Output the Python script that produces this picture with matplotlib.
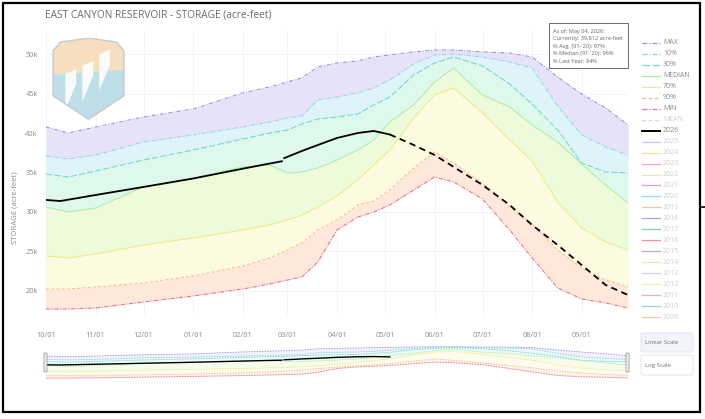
import matplotlib
matplotlib.use('Agg')
import matplotlib.pyplot as plt
from matplotlib.patches import Rectangle, Polygon, FancyBboxPatch
from matplotlib.lines import Line2D
import numpy as np

plt.rcParams['font.family'] = ['Open Sans', 'DejaVu Sans']

# water-year day (0 = Oct 1) and storage statistics in acre-feet
days = [0, 14, 31, 61, 92, 123, 140, 151, 160, 170, 182, 195, 205, 215,
        230, 243, 255, 273, 290, 304, 320, 335, 350, 364]
st_max = [40760, 40000, 40760, 42030, 43040, 45070, 45830, 46460, 46970, 48360, 48865, 49120,
          49620, 49880, 50260, 50510, 50510, 50260, 50130, 49620, 47090, 44940, 43170, 41020]
st_p10 = [37090, 36710, 37220, 38860, 39750, 40760, 41400, 41900, 42150, 44180, 44560, 45070,
          45700, 46710, 48740, 49880, 50000, 49620, 48990, 48230, 43420, 39750, 38230, 37220]
st_p30 = [34810, 34430, 35190, 36580, 37850, 39240, 40000, 40380, 41140, 41780, 42030, 42410,
          43550, 44560, 47350, 48860, 49620, 48490, 46210, 43670, 40380, 36210, 35065, 34940]
st_med = [30630, 30000, 30500, 33170, 34240, 35700, 35950, 34940, 35070, 35570, 36580, 37850,
          39120, 41400, 43550, 46460, 48230, 44810, 43290, 41020, 38860, 36080, 33420, 31140]
st_p70 = [24430, 24180, 24680, 25820, 26710, 27720, 28360, 28990, 29620, 30630, 32030, 34050,
          35950, 37850, 41900, 44810, 45700, 42540, 39120, 36460, 31270, 27980, 26200, 25190]
st_p90 = [20250, 20250, 20510, 21010, 21900, 23160, 24180, 25190, 26080, 27720, 28990, 30890,
          31390, 32790, 35570, 37600, 36200, 33670, 30630, 28480, 25190, 22910, 21390, 20510]
st_min = [17720, 17720, 17850, 18610, 19370, 20250, 20890, 21390, 21770, 23670, 27720, 29370,
          30000, 30890, 32790, 34430, 33800, 31650, 27720, 24180, 20380, 18990, 18480, 17850]

# current water year (observed) and projection
obs_days = [0, 9, 31, 61, 92, 123, 140, 147.5, 148, 149, 160, 170, 182, 195, 205, 215]
obs_vals = [31520, 31390, 32150, 33170, 34240, 35480, 36140, 36420, np.nan, 36820, 37720,
            38480, 39370, 40000, 40260, 39812]
proj_days = [215, 230, 243, 255, 273, 290, 304, 320, 335, 350, 364]
proj_vals = [39812, 38480, 37220, 35700, 33420, 30890, 28360, 25820, 23290, 20760, 19490]

month_days = [0, 31, 61, 92, 123, 151, 182, 212, 243, 273, 304, 335]
month_labels = ['10/01', '11/01', '12/01', '01/01', '02/01', '03/01',
                '04/01', '05/01', '06/01', '07/01', '08/01', '09/01']
ytick_vals = [20000, 25000, 30000, 35000, 40000, 45000, 50000]
ytick_labels = ['20k', '25k', '30k', '35k', '40k', '45k', '50k']

info_lines = ['As of: May 04, 2026:', 'Currently: 39,812 acre-feet', "% Avg. (91-'20): 97%",
              "% Median (91-'20): 96%", '% Last Year: 84%']

stats = [
    ('MAX', st_max, '#9890dd', (0, (4, 1.5, 1, 1.5))),
    ('10%', st_p10, '#8bd5eb', (0, (4, 1.5, 1, 1.5))),
    ('30%', st_p30, '#6cd9c8', (0, (6, 2))),
    ('MEDIAN', st_med, '#b0eaa8', '-'),
    ('70%', st_p70, '#e9ed84', '-'),
    ('90%', st_p90, '#f6bf86', (0, (3, 2))),
    ('MIN', st_min, '#ec6f8a', (0, (4, 1.5, 1, 1.5))),
]
band_colors = ['#e6e3f8', '#def4f8', '#def8ec', '#eefbda', '#fcfbe0', '#fde8db']

year_labels = ['2025', '2024', '2023', '2022', '2021', '2020', '2019', '2018', '2017',
               '2016', '2015', '2014', '2013', '2012', '2011', '2010', '2009']
year_colors = ['#cbc5f1', '#f3e28e', '#f2a9c0', '#e6e9b4', '#dba3c6', '#93e1dc', '#f6c490',
               '#aca4e7', '#78d5c3', '#f08f9e', '#acabeb', '#f3e2b6', '#dacdf1', '#edf0b4',
               '#f4abba', '#93d2e9', '#f6c9b4']

W, H = 705, 419


def px_box(x0, y0, x1, y1):
    return [x0 / W, 1 - y1 / H, (x1 - x0) / W, (y1 - y0) / H]


def fx(x):
    return x / W


def fy(y):
    return 1 - y / H


fig = plt.figure(figsize=(W / 100, H / 100), dpi=100)
fig.patch.set_facecolor('white')

# main chart
ax = fig.add_axes(px_box(46, 30, 628, 315))
for i in range(len(stats) - 1):
    ax.fill_between(days, stats[i + 1][1], stats[i][1], color=band_colors[i], lw=0, zorder=1)
for name, vals, col, ls in stats:
    ax.plot(days, vals, color=col, ls=ls, lw=0.75, zorder=2)
ax.plot(obs_days, obs_vals, color='black', lw=1.3, zorder=4)
ax.plot(proj_days, proj_vals, color='black', lw=1.3, ls=(0, (3.5, 2.5)), zorder=4)

ax.set_xlim(0, 364)
ax.set_ylim(16960, 53040)
ax.set_xticks(month_days)
ax.set_xticklabels(month_labels)
ax.set_yticks(ytick_vals)
ax.set_yticklabels(ytick_labels)
ax.tick_params(length=0, labelsize=5.3, labelcolor='#8a8a8a')
ax.tick_params(axis='x', pad=12)
ax.tick_params(axis='y', pad=6)
ax.grid(True, color='#eef1f6', lw=0.6, zorder=0)
ax.set_axisbelow(True)
for s in ax.spines.values():
    s.set_visible(False)

fig.text(fx(45), fy(15), 'EAST CANYON RESERVOIR - STORAGE (acre-feet)', fontsize=7.3,
         color='#6b6b6b', va='center', ha='left')
fig.text(fx(15), fy(208), 'STORAGE (acre-feet)', fontsize=5.6, color='#8a8a8a',
         rotation=90, va='center', ha='center')

# badge in the upper left corner
logo = fig.add_axes(px_box(50, 38, 127, 120))
logo.set_xlim(0, 1)
logo.set_ylim(0, 1)
logo.axis('off')
shield_pts = [(0.05, 0.84), (0.14, 0.94), (0.5, 0.99), (0.86, 0.94), (0.95, 0.84),
              (0.95, 0.30), (0.5, 0.02), (0.05, 0.30)]
shield = Polygon(shield_pts, closed=True, facecolor='white', edgecolor='#c8ccd2', lw=2.2, zorder=1)
logo.add_patch(shield)
top = Polygon([(0, 1), (1, 1), (1, 0.62), (0, 0.55)], facecolor='#f5dfbf', lw=0, zorder=2)
bottom = Polygon([(0, 0.55), (1, 0.62), (1, 0), (0, 0)], facecolor='#bfdfe8', lw=0, zorder=2)
logo.add_patch(top)
logo.add_patch(bottom)
top.set_clip_path(shield)
bottom.set_clip_path(shield)
for xa, xb, yt in [(0.2, 0.34, 0.62), (0.42, 0.56, 0.72), (0.64, 0.78, 0.86)]:
    bar = Polygon([(xa, yt - 0.06), (xb, yt), (xb, yt - 0.18), (xa, yt - 0.5)],
                  facecolor='white', lw=0, zorder=3, alpha=0.9)
    logo.add_patch(bar)
    bar.set_clip_path(shield)

# info box
fig.add_artist(Rectangle((fx(549), fy(68)), (628 - 549) / W, (68 - 23) / H,
                         transform=fig.transFigure, facecolor='white',
                         edgecolor='#555555', lw=0.6, zorder=5))
for i, line in enumerate(info_lines):
    fig.text(fx(553), fy(31 + i * 7.6), line, fontsize=4.1, color='#666666',
             va='center', ha='left', zorder=6)

# legend
entries = [(n, c, ls, True) for n, v, c, ls in stats]
entries.append(('MEAN', '#d6d6d6', (0, (3, 2)), False))
entries.append(('2026', 'black', '-', True))
entries += [(lab, col, '-', False) for lab, col in zip(year_labels, year_colors)]
for i, (lab, col, ls, shown) in enumerate(entries):
    yy = fy(43 + i * 10.96)
    fig.add_artist(Line2D([fx(642), fx(660)], [yy, yy], color=col, ls=ls,
                          lw=1.4 if lab == '2026' else 0.9, transform=fig.transFigure))
    fig.text(fx(663), yy, lab, fontsize=5.0, va='center', ha='left',
             color='#8a8a8a' if shown else '#d0d0d0')

# range slider
mini = fig.add_axes(px_box(46, 344, 628, 382))
for i in range(len(stats) - 1):
    mini.fill_between(days, stats[i + 1][1], stats[i][1], color=band_colors[i], lw=0, alpha=0.5)
for name, vals, col, ls in stats:
    mini.plot(days, vals, color=col, ls=(0, (2, 1.2)), lw=0.6)
mini.plot(obs_days, obs_vals, color='black', lw=1.0)
mini.set_xlim(0, 364)
mini.set_ylim(13500, 53400)
mini.axis('off')
for hx in (44, 626):
    fig.add_artist(FancyBboxPatch((fx(hx), fy(372)), 3 / W, 19 / H,
                                  boxstyle='round,pad=0,rounding_size=0.002',
                                  transform=fig.transFigure, facecolor='#f0f0f0',
                                  edgecolor='#9a9a9a', lw=0.6))

# scale buttons
for label, y0, y1, face in [('Linear Scale', 333, 352, '#f1f5fb'), ('Log Scale', 355, 375, 'white')]:
    fig.add_artist(FancyBboxPatch((fx(641), fy(y1)), 52 / W, (y1 - y0) / H,
                                  boxstyle='round,pad=0,rounding_size=0.004',
                                  transform=fig.transFigure, facecolor=face,
                                  edgecolor='#dde2ea', lw=0.6))
    fig.text(fx(645), fy((y0 + y1) / 2), label, fontsize=4.3, color='#707070',
             va='center', ha='left')

# outer frame
fig.add_artist(Rectangle((fx(3), fy(412)), 697 / W, 409 / H, transform=fig.transFigure,
                         fill=False, edgecolor='black', lw=1.6))
fig.add_artist(Line2D([fx(700), fx(705)], [fy(207), fy(207)], color='black', lw=1.2,
                      transform=fig.transFigure))

fig.savefig('out.png', dpi=100)
